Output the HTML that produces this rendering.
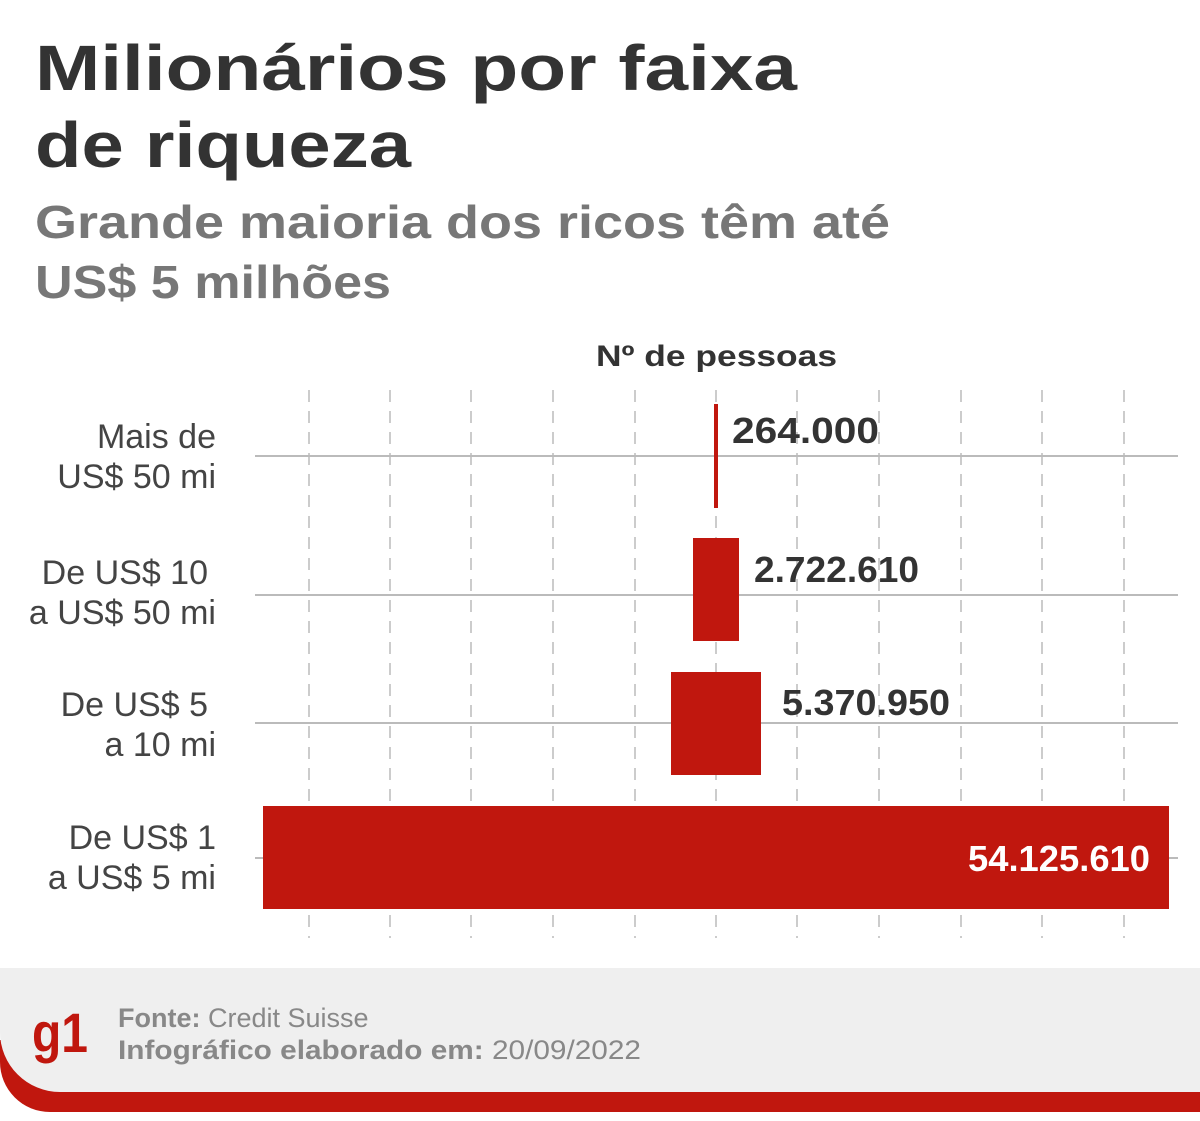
<!DOCTYPE html>
<html><head><meta charset="utf-8"><style>
html,body{margin:0;padding:0;background:#fff}
svg{display:block}
text{font-family:"Liberation Sans",sans-serif}
</style></head><body>
<svg width="1200" height="1121" viewBox="0 0 1200 1121" xmlns="http://www.w3.org/2000/svg">
<rect width="1200" height="1121" fill="#fff"/>
<text x="35" y="90" font-size="64" font-weight="bold" fill="#333" textLength="762" lengthAdjust="spacingAndGlyphs">Milionários por faixa</text>
<text x="35" y="167" font-size="64" font-weight="bold" fill="#333" textLength="376" lengthAdjust="spacingAndGlyphs">de riqueza</text>
<text x="35" y="238" font-size="46" font-weight="bold" fill="#777" textLength="855" lengthAdjust="spacingAndGlyphs">Grande maioria dos ricos têm até</text>
<text x="35" y="298" font-size="46" font-weight="bold" fill="#777" textLength="356" lengthAdjust="spacingAndGlyphs">US$ 5 milhões</text>
<text x="596" y="366" font-size="30" font-weight="bold" fill="#333" textLength="241" lengthAdjust="spacingAndGlyphs">Nº de pessoas</text>
<g stroke="#bbb" stroke-width="1.5" stroke-dasharray="12,9">
<line x1="309" y1="390" x2="309" y2="938"/><line x1="390" y1="390" x2="390" y2="938"/>
<line x1="471" y1="390" x2="471" y2="938"/><line x1="553" y1="390" x2="553" y2="938"/>
<line x1="635" y1="390" x2="635" y2="938"/><line x1="716" y1="390" x2="716" y2="938"/>
<line x1="797" y1="390" x2="797" y2="938"/><line x1="879" y1="390" x2="879" y2="938"/>
<line x1="961" y1="390" x2="961" y2="938"/><line x1="1042" y1="390" x2="1042" y2="938"/>
<line x1="1124" y1="390" x2="1124" y2="938"/>
</g>
<g stroke="#bbb" stroke-width="2">
<line x1="255" y1="456" x2="1178" y2="456"/><line x1="255" y1="595" x2="1178" y2="595"/>
<line x1="255" y1="723" x2="1178" y2="723"/><line x1="255" y1="858" x2="1178" y2="858"/>
</g>
<g fill="#c0170e">
<rect x="714" y="404" width="4" height="104"/>
<rect x="693" y="538" width="46" height="103"/>
<rect x="671" y="672" width="90" height="103"/>
<rect x="263" y="806" width="906" height="103"/>
</g>
<g font-size="36" font-weight="bold" fill="#333">
<text x="732" y="443" textLength="147" lengthAdjust="spacingAndGlyphs">264.000</text>
<text x="754" y="582" textLength="165" lengthAdjust="spacingAndGlyphs">2.722.610</text>
<text x="782" y="715" textLength="168" lengthAdjust="spacingAndGlyphs">5.370.950</text>
<text x="968" y="871" fill="#fff" textLength="182" lengthAdjust="spacingAndGlyphs">54.125.610</text>
</g>
<g font-size="34" fill="#444" text-anchor="end">
<text x="216" y="448">Mais de</text><text x="216" y="488">US$ 50 mi</text>
<text x="208" y="584">De US$ 10</text><text x="216" y="624">a US$ 50 mi</text>
<text x="208" y="716">De US$ 5</text><text x="216" y="756">a 10 mi</text>
<text x="216" y="849">De US$ 1</text><text x="216" y="889">a US$ 5 mi</text>
</g>
<path d="M0 1040 H1200 V1112 H50 A50 50 0 0 1 0 1062 Z" fill="#c0170e"/>
<path d="M0 968 H1200 V1092 H60 A60 60 0 0 1 0 1032 Z" fill="#efefef"/>
<text x="32" y="1052" font-size="56" font-weight="bold" fill="#c0170e" textLength="56" lengthAdjust="spacingAndGlyphs">g1</text>
<text x="118" y="1027" font-size="27" fill="#888"><tspan font-weight="bold">Fonte:</tspan> Credit Suisse</text>
<text x="118" y="1059" font-size="27" fill="#888" textLength="523" lengthAdjust="spacingAndGlyphs"><tspan font-weight="bold">Infográfico elaborado em:</tspan> 20/09/2022</text>
</svg>
</body></html>
